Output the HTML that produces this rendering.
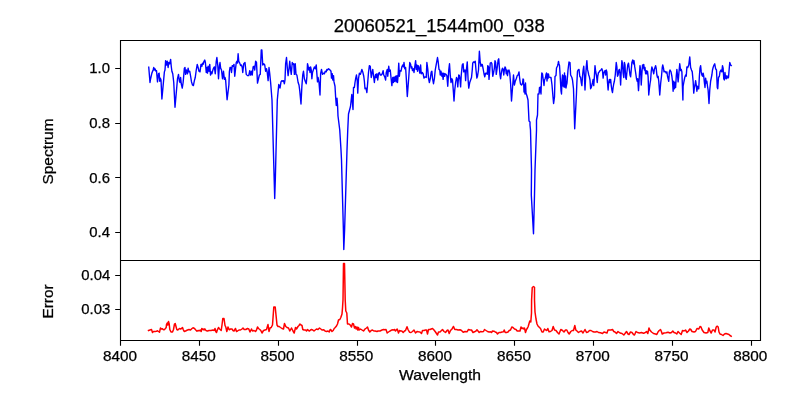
<!DOCTYPE html><html><head><meta charset="utf-8"><style>html,body{margin:0;padding:0;background:#fff;}svg{display:block;will-change:transform;}text{font-family:"Liberation Sans",sans-serif;fill:#000;stroke:#000;stroke-width:0.25px;}</style></head><body>
<svg width="800" height="400" viewBox="0 0 800 400">
<rect width="800" height="400" fill="#fff"/>
<path d="M148.75,67.25 L150.00,82.50 L150.62,78.75 L151.88,73.12 L153.12,70.00 L153.75,67.50 L154.38,70.00 L155.00,68.75 L156.00,71.25 L156.50,70.62 L157.50,81.88 L158.50,73.75 L159.12,73.12 L159.75,81.25 L160.25,78.12 L161.00,80.00 L161.90,99.00 L164.38,71.88 L165.00,70.00 L165.62,60.62 L166.50,65.00 L167.25,61.25 L168.12,67.50 L168.75,62.50 L169.75,63.75 L170.62,59.38 L171.25,66.25 L171.88,71.25 L172.75,73.75 L173.75,82.50 L175.00,107.25 L177.50,78.75 L178.50,74.38 L179.38,81.25 L180.00,82.50 L180.62,77.50 L181.25,83.75 L182.25,88.12 L183.12,82.50 L184.38,68.12 L185.00,67.50 L185.62,74.38 L186.50,70.00 L187.50,73.75 L188.12,68.12 L188.75,71.88 L189.75,71.25 L190.62,76.25 L191.50,81.88 L192.50,85.00 L193.38,85.62 L194.38,80.62 L195.25,77.50 L196.25,70.00 L197.25,64.38 L198.12,67.50 L199.00,71.25 L200.00,71.88 L201.00,64.38 L201.88,66.25 L202.50,63.12 L203.12,64.38 L204.00,61.25 L204.75,60.00 L205.38,62.50 L206.25,72.50 L206.88,67.50 L207.50,73.12 L208.12,66.25 L209.00,71.25 L209.75,64.38 L210.50,75.00 L211.25,71.88 L211.88,73.75 L212.50,71.25 L213.50,68.12 L214.38,66.88 L215.25,73.75 L216.25,61.25 L216.88,57.50 L217.75,65.00 L218.50,78.75 L219.38,66.25 L220.00,62.50 L220.62,68.12 L221.50,70.00 L222.50,78.75 L223.50,71.25 L224.38,79.38 L225.00,77.50 L225.62,80.00 L227.10,99.75 L228.90,85.00 L229.38,71.88 L230.00,67.50 L231.00,67.50 L231.50,72.50 L232.25,65.62 L233.12,66.25 L234.00,64.38 L234.75,76.25 L235.62,68.12 L236.25,62.50 L236.88,61.25 L237.50,63.12 L238.12,53.75 L238.75,61.25 L239.75,63.12 L240.62,65.62 L241.50,65.00 L242.25,67.50 L242.75,72.50 L243.75,63.75 L245.00,62.50 L246.25,74.38 L247.50,75.62 L248.75,75.62 L249.75,70.62 L250.62,75.00 L251.50,71.25 L252.25,75.00 L253.12,66.88 L254.00,66.25 L254.75,70.00 L255.62,61.25 L256.50,62.50 L257.50,83.12 L258.50,78.75 L259.38,75.00 L260.25,74.38 L261.25,50.00 L261.88,50.00 L262.75,65.00 L263.75,63.75 L264.75,65.00 L265.62,71.25 L266.50,68.75 L267.25,72.50 L268.12,80.62 L269.00,67.50 L269.75,73.75 L270.62,82.50 L272.00,100.00 L274.20,180.00 L274.70,198.60 L275.30,180.00 L277.30,100.00 L278.75,84.50 L280.00,88.10 L281.00,81.88 L281.88,80.62 L282.75,81.25 L283.50,80.62 L284.38,83.75 L285.00,80.00 L285.62,63.75 L286.50,57.50 L287.50,70.00 L288.12,75.62 L289.00,68.75 L289.75,61.25 L290.62,70.00 L291.25,74.38 L292.25,62.50 L293.12,64.38 L293.75,63.75 L294.38,74.38 L295.25,63.75 L296.00,74.38 L296.88,75.00 L298.12,82.50 L299.00,85.00 L299.75,90.62 L301.00,104.00 L301.88,86.25 L302.75,75.00 L303.50,71.25 L304.38,78.75 L305.25,81.25 L306.25,83.75 L306.88,76.88 L307.50,63.75 L308.12,66.25 L308.75,70.00 L309.38,67.50 L310.00,72.50 L310.62,66.88 L311.25,70.00 L311.88,78.75 L312.50,72.50 L313.50,69.38 L314.38,66.88 L315.25,68.75 L316.25,65.00 L316.88,73.75 L317.50,81.88 L318.12,77.50 L319.00,82.50 L320.00,95.00 L320.62,73.75 L321.50,69.38 L322.50,74.38 L323.50,73.12 L324.38,73.75 L325.25,71.25 L326.25,71.88 L326.88,69.38 L327.50,70.00 L328.50,68.75 L329.38,69.38 L330.00,70.00 L331.00,71.25 L331.50,78.12 L332.25,73.75 L332.75,80.00 L333.50,75.62 L334.00,81.88 L335.00,86.25 L335.70,98.00 L336.30,105.50 L337.00,98.30 L337.60,106.00 L338.00,116.00 L339.75,130.00 L341.00,150.00 L341.50,160.00 L342.30,190.00 L343.40,230.00 L343.80,249.50 L344.60,230.00 L345.80,190.00 L347.00,150.00 L347.75,130.00 L348.50,114.00 L350.50,106.50 L351.80,94.50 L353.00,109.50 L353.50,87.50 L354.38,87.50 L355.00,82.50 L355.62,78.75 L356.50,75.00 L357.25,81.25 L357.75,93.12 L358.50,78.75 L359.38,73.12 L360.25,74.38 L361.00,72.50 L361.88,69.38 L362.75,71.88 L363.75,76.25 L364.38,81.25 L365.00,88.75 L366.00,88.12 L366.88,92.50 L367.50,85.00 L368.50,72.50 L369.38,65.62 L370.25,66.25 L371.25,77.50 L371.88,73.75 L372.75,69.38 L373.50,75.62 L374.38,82.50 L375.00,76.88 L375.62,74.38 L376.25,77.50 L376.88,73.75 L377.75,80.00 L378.50,73.75 L379.38,72.50 L380.25,75.00 L381.25,75.00 L382.25,73.75 L383.12,70.62 L383.75,75.00 L384.75,76.88 L385.62,80.00 L386.25,72.50 L387.25,69.38 L387.75,76.25 L388.75,66.25 L389.38,71.25 L390.25,70.00 L391.00,77.50 L391.88,85.62 L392.75,77.50 L393.50,82.50 L394.12,76.88 L394.75,81.25 L395.62,76.25 L396.25,81.88 L396.88,75.62 L397.50,82.50 L398.12,75.62 L398.75,63.12 L399.38,76.25 L400.00,70.62 L401.00,71.25 L401.88,66.88 L402.75,65.00 L403.50,66.88 L404.00,62.50 L404.75,68.75 L405.62,67.50 L406.25,77.50 L406.88,89.38 L407.30,96.50 L408.75,77.50 L409.75,62.50 L410.62,64.38 L411.25,68.12 L411.88,66.88 L412.50,70.62 L413.50,68.75 L414.00,72.50 L414.75,66.88 L415.62,60.62 L416.25,69.38 L416.88,65.00 L417.50,71.25 L418.12,65.62 L418.75,66.88 L419.75,73.12 L420.62,65.00 L421.25,73.75 L422.25,72.50 L423.12,73.75 L424.00,78.12 L425.00,76.88 L426.25,77.50 L426.88,62.50 L427.75,68.75 L428.50,78.12 L429.38,82.50 L430.25,78.75 L431.25,71.88 L431.88,71.25 L432.50,78.12 L433.50,83.75 L434.38,78.75 L435.25,70.00 L436.25,64.38 L437.50,57.50 L438.12,61.25 L439.00,69.38 L439.75,70.00 L440.25,75.00 L441.00,71.25 L441.88,76.25 L442.50,73.12 L443.12,79.38 L443.75,73.12 L444.75,76.25 L445.00,73.75 L446.00,74.38 L446.88,75.62 L447.75,86.25 L448.75,70.00 L449.50,63.75 L450.25,75.00 L451.00,82.50 L451.88,78.75 L452.50,80.00 L453.50,93.12 L454.00,101.00 L454.75,90.00 L455.62,82.50 L456.50,77.50 L457.25,79.38 L457.75,86.88 L458.75,75.00 L459.38,75.62 L460.00,79.38 L460.62,86.88 L461.25,75.00 L462.25,65.00 L463.12,63.75 L463.75,71.88 L464.38,70.62 L465.00,70.00 L465.62,80.62 L466.25,71.25 L467.25,61.88 L468.12,80.00 L468.75,88.12 L469.75,82.50 L470.62,80.00 L471.50,77.50 L472.25,70.00 L472.75,63.12 L473.50,61.88 L474.38,62.50 L475.25,61.25 L476.00,70.00 L476.88,78.12 L477.50,76.25 L478.50,70.00 L479.38,51.25 L480.25,62.50 L481.00,66.25 L481.50,64.38 L482.25,64.38 L483.12,68.75 L484.00,73.75 L484.75,76.88 L485.62,73.12 L486.50,73.12 L487.25,74.38 L487.75,65.62 L488.50,66.88 L489.00,79.38 L489.75,70.00 L490.25,63.12 L491.25,62.50 L491.88,63.75 L492.75,76.25 L493.50,73.12 L494.38,68.12 L495.00,60.62 L495.62,62.50 L496.25,74.38 L497.25,67.50 L498.12,60.00 L498.75,58.75 L499.38,67.50 L500.00,75.00 L500.62,78.75 L501.25,73.75 L501.88,70.00 L502.50,68.12 L503.12,69.38 L503.75,75.00 L504.38,70.00 L505.00,66.88 L505.62,68.12 L506.25,73.75 L506.88,70.00 L507.50,75.62 L508.12,71.25 L509.00,70.00 L509.75,73.12 L510.62,83.75 L511.50,101.00 L513.50,75.00 L514.38,85.00 L515.25,81.25 L516.25,78.75 L517.25,75.62 L518.12,75.00 L519.00,71.88 L519.00,72.00 L519.50,77.00 L520.00,81.00 L520.50,84.00 L521.50,85.00 L522.50,83.50 L523.00,79.00 L523.50,79.50 L524.00,92.00 L524.50,85.00 L525.00,94.00 L525.50,83.00 L526.00,93.00 L527.00,96.00 L528.00,100.00 L529.00,121.00 L530.00,122.00 L530.00,125.00 L530.50,130.00 L531.50,170.00 L531.30,195.00 L533.50,233.80 L534.50,195.00 L535.00,170.00 L536.50,130.00 L536.50,120.00 L537.50,115.00 L538.00,94.00 L539.00,94.00 L539.50,87.50 L540.00,92.00 L540.50,87.00 L541.00,94.00 L541.50,78.00 L541.80,73.00 L542.50,74.00 L543.00,78.00 L543.50,81.50 L544.00,85.50 L544.50,80.00 L545.00,79.00 L545.50,77.50 L546.00,74.50 L546.50,73.00 L547.00,81.00 L547.50,74.00 L548.00,78.50 L548.50,74.00 L549.00,77.00 L550.00,77.50 L551.00,77.50 L552.00,85.00 L553.00,97.00 L553.60,103.50 L554.50,97.00 L555.00,76.50 L556.00,75.50 L556.50,68.00 L557.00,67.00 L557.50,66.00 L558.00,64.00 L558.50,61.50 L559.00,64.00 L559.50,65.50 L560.00,73.00 L561.00,91.00 L561.50,94.00 L562.00,80.00 L562.50,75.00 L563.00,86.00 L563.50,76.00 L564.00,87.00 L564.50,73.00 L565.00,87.00 L565.50,76.00 L566.00,88.00 L566.50,85.00 L567.00,83.00 L568.00,70.00 L569.00,62.00 L570.00,62.50 L570.62,75.00 L571.25,76.25 L571.88,77.50 L572.50,80.00 L573.50,88.75 L574.70,128.80 L576.40,95.00 L576.88,82.50 L577.50,71.25 L578.12,70.00 L579.00,69.38 L579.75,76.25 L580.62,77.50 L581.25,82.50 L581.88,85.62 L582.50,76.25 L583.12,70.00 L583.75,66.25 L584.38,75.62 L585.00,90.00 L585.62,77.50 L586.25,66.88 L586.88,60.62 L587.50,69.38 L588.12,71.88 L588.75,75.00 L589.38,76.88 L590.00,80.00 L590.62,88.75 L591.25,87.50 L591.88,85.00 L592.50,82.50 L593.12,79.38 L593.75,85.62 L594.38,76.88 L595.00,65.62 L595.62,71.25 L596.50,75.62 L597.25,82.50 L597.75,76.25 L598.50,72.50 L599.38,71.88 L600.00,70.62 L601.00,70.00 L601.88,68.75 L602.50,70.62 L603.12,78.12 L603.75,73.12 L604.38,71.88 L605.00,70.62 L605.62,75.00 L606.25,70.00 L606.88,71.88 L607.50,82.50 L608.12,90.00 L608.75,82.50 L609.38,79.38 L610.00,82.50 L610.62,79.38 L611.25,85.62 L611.88,90.00 L612.50,92.50 L613.12,87.50 L613.75,83.75 L614.38,81.25 L615.25,75.00 L616.25,62.50 L616.88,66.88 L617.50,76.25 L618.12,75.00 L618.75,70.62 L619.38,69.38 L620.00,73.75 L620.62,85.00 L621.25,71.25 L621.88,60.62 L622.50,63.75 L623.12,73.12 L623.75,77.50 L624.38,62.50 L625.00,65.00 L625.62,77.50 L626.25,79.38 L626.88,72.50 L627.75,65.00 L628.50,63.12 L629.38,70.00 L630.00,75.00 L630.62,76.88 L631.25,70.00 L631.88,62.50 L632.75,60.00 L633.50,63.75 L634.00,60.62 L634.75,66.88 L635.62,72.50 L636.50,78.75 L637.25,81.25 L637.75,78.75 L638.50,90.62 L639.00,82.50 L639.38,75.00 L640.00,65.62 L640.62,70.00 L641.25,85.00 L641.88,73.75 L642.50,65.00 L643.12,68.12 L643.75,64.38 L644.38,70.00 L645.00,67.50 L645.62,73.75 L646.25,70.62 L646.88,73.75 L647.50,71.25 L648.12,76.88 L648.75,95.00 L649.38,88.75 L650.00,83.75 L650.62,80.00 L651.25,71.25 L651.88,66.88 L652.50,68.75 L653.12,71.25 L653.75,73.75 L654.38,69.38 L655.00,67.50 L655.62,65.62 L656.25,68.75 L656.88,75.00 L657.50,77.50 L658.12,76.25 L658.75,81.25 L659.75,95.00 L660.62,83.75 L661.50,76.25 L662.25,67.50 L662.75,65.00 L663.50,68.12 L664.00,71.88 L664.75,71.25 L665.62,71.88 L666.25,73.12 L666.88,71.88 L667.50,76.25 L668.12,78.75 L668.75,81.25 L669.38,71.88 L670.00,70.00 L671.00,71.88 L671.88,76.25 L672.50,81.25 L673.12,91.25 L673.75,81.25 L674.38,88.75 L675.00,82.50 L675.62,87.50 L676.25,76.25 L676.88,69.38 L677.50,75.00 L678.12,81.88 L679.00,71.88 L679.75,63.75 L680.62,70.62 L681.25,69.38 L681.88,71.88 L682.90,100.00 L683.12,86.25 L684.00,81.25 L684.75,77.50 L685.62,75.00 L686.25,76.25 L686.88,66.88 L687.75,67.50 L688.75,65.00 L689.75,56.88 L690.62,67.50 L691.50,70.00 L692.25,71.88 L693.12,81.25 L693.75,93.12 L694.38,87.50 L695.00,85.00 L695.62,80.62 L696.25,85.00 L696.88,91.25 L697.50,86.25 L698.12,88.75 L698.75,88.75 L699.38,76.25 L700.00,68.12 L700.62,65.62 L701.25,71.88 L701.88,75.00 L702.50,76.25 L703.12,73.12 L703.75,76.25 L704.38,82.50 L705.00,87.50 L705.62,78.12 L706.25,83.12 L706.88,81.25 L707.50,86.25 L708.12,90.00 L709.00,103.50 L709.75,90.00 L710.62,81.25 L711.25,78.12 L711.88,75.00 L712.50,70.00 L713.12,67.50 L714.00,65.00 L714.75,63.75 L715.62,68.75 L716.50,70.00 L717.25,87.50 L717.75,88.75 L718.50,77.50 L719.38,76.25 L720.00,71.88 L721.00,70.00 L721.88,71.88 L722.50,65.62 L723.12,68.12 L723.75,78.75 L724.38,80.00 L725.00,72.50 L725.62,78.12 L726.25,78.75 L726.88,75.62 L727.75,78.12 L728.50,77.50 L729.00,71.25 L729.75,62.50 L730.62,65.00 L731.25,65.62" fill="none" stroke="#0000ff" stroke-width="1.39" stroke-linejoin="round" stroke-linecap="square"/>
<path d="M148.50,330.50 L150.00,330.00 L151.50,329.50 L152.50,332.50 L153.50,331.50 L155.00,331.50 L156.50,331.20 L157.50,330.80 L158.50,331.50 L159.50,332.20 L160.50,328.00 L161.50,329.00 L162.50,328.80 L163.20,329.50 L164.00,329.80 L165.00,329.00 L166.20,327.50 L166.50,324.50 L167.20,323.00 L167.80,325.00 L168.50,321.50 L169.20,324.00 L169.80,329.50 L171.00,332.00 L172.50,332.00 L173.50,329.50 L174.50,324.00 L175.20,323.50 L176.00,326.50 L176.80,329.50 L177.80,330.00 L178.80,329.00 L179.50,328.50 L180.50,329.00 L181.50,328.50 L182.50,327.50 L183.20,329.50 L184.20,331.50 L185.50,331.00 L186.50,330.50 L187.50,330.00 L189.00,329.50 L190.50,330.00 L192.00,328.50 L193.00,327.80 L194.50,328.50 L195.80,330.00 L197.00,331.20 L198.20,330.50 L199.20,330.80 L200.20,330.00 L201.20,331.50 L201.80,328.50 L202.50,329.50 L203.20,329.00 L204.00,330.00 L204.80,328.80 L205.50,330.00 L206.50,330.80 L207.50,331.00 L209.00,330.50 L211.00,330.50 L213.00,330.00 L214.20,330.50 L215.00,328.50 L215.80,331.50 L216.50,332.50 L217.50,329.50 L218.50,327.50 L219.50,329.00 L220.20,329.50 L221.20,330.50 L222.00,325.00 L222.80,318.50 L224.00,318.50 L225.00,325.50 L225.80,327.00 L226.80,331.50 L228.00,327.00 L229.20,329.80 L230.50,329.00 L232.00,329.00 L233.00,330.50 L234.00,331.00 L235.50,328.50 L236.50,331.50 L237.50,331.00 L239.00,330.00 L240.50,330.00 L242.00,329.00 L243.00,328.00 L244.20,329.50 L245.80,329.50 L247.50,328.50 L248.80,329.00 L250.00,332.00 L251.50,329.00 L252.50,331.00 L254.00,330.50 L255.50,331.50 L256.50,330.00 L257.50,327.00 L258.50,328.50 L259.80,329.50 L260.80,330.50 L262.00,333.00 L263.50,330.50 L265.00,330.00 L266.50,329.50 L268.00,324.50 L269.00,331.50 L270.00,328.00 L271.20,327.50 L272.50,325.00 L273.80,307.00 L275.20,307.00 L276.00,315.00 L277.00,325.00 L278.00,326.50 L279.20,326.50 L280.50,327.50 L282.00,328.50 L283.50,329.00 L284.50,323.50 L285.80,326.50 L287.00,327.50 L288.50,328.00 L289.80,331.00 L291.50,328.00 L293.00,331.00 L294.20,333.00 L295.50,327.50 L296.50,329.00 L298.00,326.50 L299.00,325.50 L300.00,324.00 L301.00,325.00 L302.00,325.50 L302.80,329.50 L304.00,330.00 L305.50,330.00 L306.50,331.00 L307.50,329.50 L308.50,330.50 L309.50,331.00 L310.50,330.00 L311.50,329.50 L312.80,330.00 L314.00,331.00 L315.20,330.00 L316.50,329.00 L318.00,329.50 L319.50,328.00 L320.80,329.00 L322.00,330.00 L323.80,329.80 L325.00,331.00 L326.50,331.50 L328.00,331.00 L329.20,332.00 L330.20,329.50 L331.00,330.00 L332.00,331.50 L333.20,330.50 L334.20,328.50 L335.20,327.50 L336.50,326.00 L337.50,324.00 L338.50,320.00 L339.80,319.50 L340.80,317.50 L342.00,314.00 L342.50,308.00 L343.00,300.00 L343.50,263.60 L344.50,263.60 L345.20,300.00 L345.80,311.00 L346.80,313.00 L347.50,324.00 L349.00,324.00 L350.20,325.00 L351.50,327.00 L352.50,323.50 L353.50,324.00 L354.50,328.00 L355.50,326.50 L356.20,329.00 L357.00,327.00 L357.80,330.00 L358.50,327.50 L359.20,330.00 L360.50,329.00 L362.00,330.00 L363.50,331.00 L365.00,329.00 L366.50,328.00 L367.50,327.00 L368.50,330.00 L369.80,332.00 L371.20,330.50 L372.50,330.00 L373.80,331.00 L375.20,331.00 L377.00,331.50 L378.00,331.00 L380.00,331.00 L382.00,330.00 L383.50,329.50 L385.00,329.80 L386.00,329.50 L387.20,333.00 L388.50,332.00 L390.00,331.00 L392.00,329.80 L393.50,330.00 L394.50,329.50 L395.50,331.00 L396.50,329.80 L397.20,329.00 L398.50,333.00 L399.50,330.50 L400.80,331.00 L401.80,331.00 L403.20,332.50 L404.50,331.00 L405.50,330.50 L407.00,326.80 L408.00,329.50 L409.50,332.20 L411.00,332.50 L412.50,331.50 L414.00,330.00 L415.50,333.00 L417.00,331.50 L418.50,331.80 L420.00,332.00 L421.50,333.50 L422.50,330.50 L424.00,330.50 L425.50,330.00 L426.50,330.00 L427.50,334.00 L428.50,329.50 L430.00,329.50 L432.50,328.50 L434.00,330.00 L435.50,332.00 L437.50,335.00 L438.50,332.00 L440.00,332.00 L442.50,329.50 L444.00,331.50 L445.50,332.50 L447.00,330.50 L448.00,330.00 L449.20,333.50 L450.50,330.50 L452.00,329.00 L453.50,326.50 L454.80,329.50 L456.50,329.50 L458.00,330.00 L460.00,329.80 L461.50,330.50 L463.20,332.20 L465.00,331.50 L467.00,331.80 L468.50,329.50 L470.00,330.00 L471.50,330.00 L473.00,332.50 L474.50,331.80 L476.00,331.00 L477.00,329.80 L478.00,331.00 L479.20,332.50 L480.50,331.50 L482.00,331.80 L483.50,331.50 L484.50,329.50 L486.00,330.50 L487.50,331.50 L489.00,332.00 L490.50,331.80 L491.50,332.50 L492.50,331.00 L494.00,331.20 L495.20,332.00 L496.50,332.50 L497.50,334.00 L499.00,332.50 L500.50,332.50 L502.00,332.00 L503.50,331.80 L504.20,330.00 L505.20,332.50 L506.50,332.50 L508.00,332.00 L509.20,330.50 L510.50,330.00 L511.80,327.00 L513.00,327.50 L514.50,329.00 L516.00,329.50 L517.20,331.00 L518.50,331.00 L520.00,331.00 L521.00,327.00 L522.00,328.50 L523.00,328.00 L523.80,329.00 L524.50,328.00 L525.50,332.50 L526.50,329.50 L527.50,328.00 L528.20,326.50 L529.20,323.00 L529.80,321.00 L530.80,322.00 L531.50,313.00 L531.60,300.00 L532.25,287.50 L533.50,286.50 L534.50,287.25 L534.50,300.00 L535.00,312.00 L536.00,319.00 L537.00,324.00 L538.00,326.00 L539.50,327.50 L540.50,328.50 L542.00,332.00 L543.20,332.00 L544.50,329.00 L545.80,330.00 L546.80,330.50 L547.80,328.50 L549.00,331.80 L550.50,331.50 L552.00,330.50 L553.20,326.50 L554.50,330.00 L556.00,330.50 L557.50,332.50 L559.00,334.00 L560.80,329.50 L562.50,330.50 L564.00,332.00 L565.50,330.00 L566.80,330.00 L568.00,332.50 L569.20,334.00 L570.80,331.50 L572.20,330.50 L573.50,330.50 L574.80,325.50 L575.80,330.00 L577.00,331.00 L578.50,332.50 L580.00,331.50 L581.50,331.00 L583.00,333.00 L585.00,329.50 L586.50,332.50 L588.00,332.00 L589.50,330.50 L591.00,330.50 L592.50,331.50 L594.00,332.00 L595.50,332.00 L597.00,331.50 L598.50,332.50 L600.50,332.80 L602.50,333.50 L604.00,332.00 L605.50,332.50 L607.00,333.00 L608.00,330.00 L609.50,330.00 L611.00,330.00 L612.50,329.50 L613.80,331.50 L615.00,332.00 L616.50,333.50 L618.00,331.50 L620.00,333.00 L622.00,333.50 L623.80,335.00 L625.00,333.50 L626.50,331.50 L628.00,334.00 L629.00,334.50 L630.50,332.00 L632.00,332.50 L633.50,334.50 L634.50,335.00 L636.00,331.50 L637.50,332.50 L639.50,333.00 L641.50,332.50 L643.50,333.20 L645.00,332.80 L646.50,331.50 L647.80,333.50 L649.00,328.00 L649.80,330.00 L651.50,332.00 L653.50,333.50 L655.50,334.00 L656.80,334.50 L658.00,332.00 L659.20,330.50 L660.50,329.50 L661.20,331.00 L662.20,334.00 L664.00,333.00 L666.00,332.80 L668.00,332.20 L670.00,333.00 L671.50,332.50 L672.80,331.00 L674.00,332.50 L675.50,333.00 L676.80,334.00 L678.00,331.50 L679.50,333.00 L681.20,334.50 L682.50,330.50 L684.00,331.00 L685.50,330.00 L687.00,332.50 L688.50,331.00 L689.80,329.00 L690.80,329.50 L692.00,331.50 L694.00,332.00 L695.50,331.50 L697.00,328.50 L698.80,329.00 L700.00,326.50 L701.00,327.00 L702.20,330.00 L704.00,332.50 L706.00,333.00 L707.80,332.50 L708.80,328.00 L710.00,331.00 L711.20,333.00 L712.50,330.00 L714.00,330.00 L715.00,332.00 L716.20,327.00 L717.20,326.20 L718.20,327.00 L719.00,332.00 L720.00,334.00 L721.50,334.50 L723.00,335.50 L724.50,334.00 L726.00,333.50 L727.50,334.00 L729.00,334.50 L730.00,335.50 L731.20,336.20" fill="none" stroke="#ff0000" stroke-width="1.5" stroke-linejoin="round" stroke-linecap="square"/>
<path d="M120.5,40.5 H760.5 V340.5 H120.5 Z M120.5,260.5 H760.5" fill="none" stroke="#000" stroke-width="1.11" stroke-linecap="square"/>
<path d="M120.5,340.5 V345.8 M199.5,340.5 V345.8 M278.5,340.5 V345.8 M357.5,340.5 V345.8 M435.5,340.5 V345.8 M514.5,340.5 V345.8 M593.5,340.5 V345.8 M672.5,340.5 V345.8 M751.5,340.5 V345.8 M120.5,68.5 H115.2 M120.5,123.5 H115.2 M120.5,177.5 H115.2 M120.5,232.5 H115.2 M120.5,275.5 H115.2 M120.5,309.5 H115.2" stroke="#000" stroke-width="1.11"/>
<text x="119.90" y="360.6" font-size="13.9" text-anchor="middle" textLength="34" lengthAdjust="spacingAndGlyphs">8400</text>
<text x="198.70" y="360.6" font-size="13.9" text-anchor="middle" textLength="34" lengthAdjust="spacingAndGlyphs">8450</text>
<text x="277.50" y="360.6" font-size="13.9" text-anchor="middle" textLength="34" lengthAdjust="spacingAndGlyphs">8500</text>
<text x="356.30" y="360.6" font-size="13.9" text-anchor="middle" textLength="34" lengthAdjust="spacingAndGlyphs">8550</text>
<text x="435.10" y="360.6" font-size="13.9" text-anchor="middle" textLength="34" lengthAdjust="spacingAndGlyphs">8600</text>
<text x="513.90" y="360.6" font-size="13.9" text-anchor="middle" textLength="34" lengthAdjust="spacingAndGlyphs">8650</text>
<text x="592.70" y="360.6" font-size="13.9" text-anchor="middle" textLength="34" lengthAdjust="spacingAndGlyphs">8700</text>
<text x="671.50" y="360.6" font-size="13.9" text-anchor="middle" textLength="34" lengthAdjust="spacingAndGlyphs">8750</text>
<text x="750.30" y="360.6" font-size="13.9" text-anchor="middle" textLength="34" lengthAdjust="spacingAndGlyphs">8800</text>
<text x="110.0" y="73.25" font-size="13.9" text-anchor="end" textLength="20.7" lengthAdjust="spacingAndGlyphs">1.0</text>
<text x="110.0" y="127.97" font-size="13.9" text-anchor="end" textLength="20.7" lengthAdjust="spacingAndGlyphs">0.8</text>
<text x="110.0" y="182.68" font-size="13.9" text-anchor="end" textLength="20.7" lengthAdjust="spacingAndGlyphs">0.6</text>
<text x="110.0" y="237.40" font-size="13.9" text-anchor="end" textLength="20.7" lengthAdjust="spacingAndGlyphs">0.4</text>
<text x="110.3" y="280.30" font-size="13.9" text-anchor="end" textLength="29" lengthAdjust="spacingAndGlyphs">0.04</text>
<text x="110.3" y="314.20" font-size="13.9" text-anchor="end" textLength="29" lengthAdjust="spacingAndGlyphs">0.03</text>
<text x="440" y="379.75" font-size="13.9" text-anchor="middle" textLength="82" lengthAdjust="spacingAndGlyphs">Wavelength</text>
<text transform="translate(52.5,151.5) rotate(-90)" x="0" y="0" font-size="13.9" text-anchor="middle" textLength="66" lengthAdjust="spacingAndGlyphs">Spectrum</text>
<text transform="translate(53.1,301.5) rotate(-90)" x="0" y="0" font-size="13.9" text-anchor="middle" textLength="34" lengthAdjust="spacingAndGlyphs">Error</text>
<text x="439.2" y="31.95" font-size="17.8" text-anchor="middle" textLength="211" lengthAdjust="spacingAndGlyphs">20060521_1544m00_038</text>
</svg></body></html>
